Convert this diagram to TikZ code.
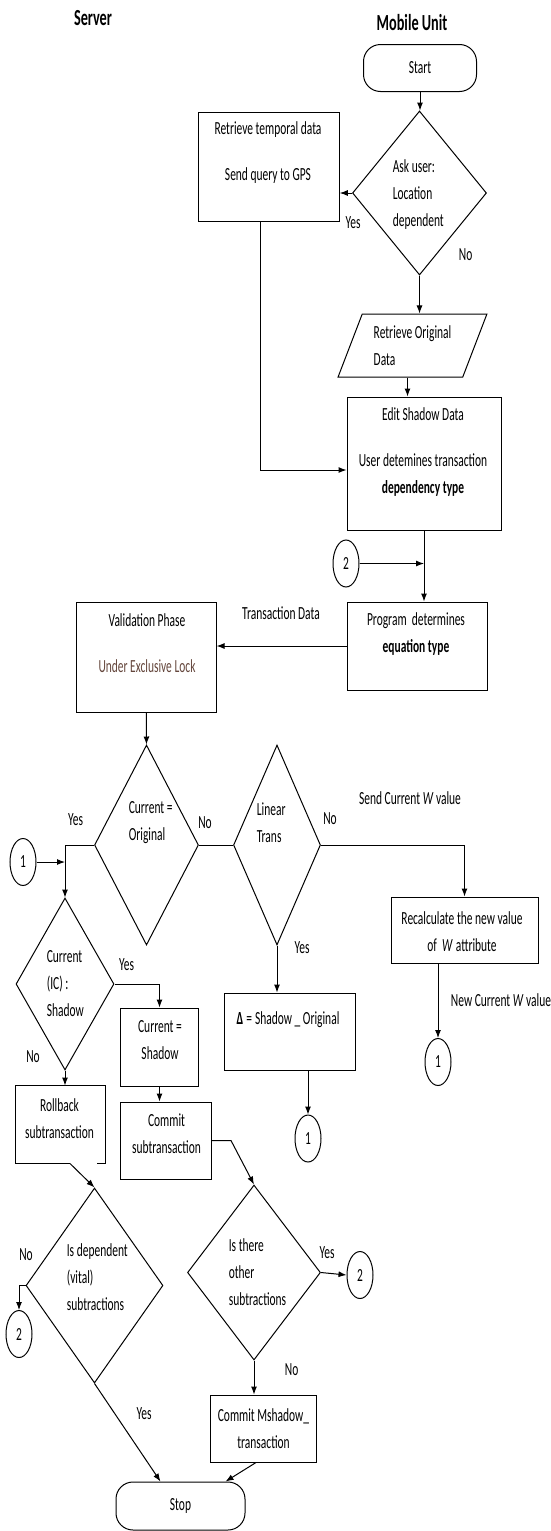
\documentclass[tikz,border=0pt]{standalone}
\usepackage{fontspec}
\setmainfont{Carlito}[FakeStretch=0.62]
\usetikzlibrary{shapes.geometric,arrows.meta}
\definecolor{lockbrown}{RGB}{100,70,60}
\tikzset{
  box/.style={draw, rectangle, inner sep=0pt},
  term/.style={draw, rectangle, rounded corners=17pt, inner sep=0pt},
  decision/.style={draw, diamond, inner sep=0pt},
  iobox/.style={draw, trapezium, trapezium left angle=65, trapezium right angle=115,
    trapezium stretches=true, inner sep=0pt},
  conn/.style={draw, ellipse, minimum width=26pt, minimum height=47pt, inner sep=0pt},
  txt/.style={align=center},
  ltxt/.style={align=left, anchor=west},
  head/.style={font=\fontsize{23}{27}\selectfont\bfseries}
}
\begin{document}
\begin{tikzpicture}[x=1pt, y=-1pt, line width=1pt, >={Latex[length=8pt,width=6pt]},
  font=\fontsize{18.5}{27}\selectfont]
    \useasboundingbox (0,0) rectangle (551,1531);
    \node[head] (srv) at (93,18) {Server};
    \node[head] (mob) at (412,23) {Mobile Unit};
    \node[term, minimum width=113pt, minimum height=47pt] (start) at (420,68) {Start};
    \node[decision, minimum width=134pt, minimum height=164pt] (ask) at (419.5,193) {};
    \node[ltxt] (ask-txt) at (389,195) {Ask user:\\Location\\dependent};
    \node[box, minimum width=140.5pt, minimum height=109pt] (ret) at (269,166.5) {};
    \node[txt] (ret-txt) at (268,153) {Retrieve temporal data\\[19pt]Send query to GPS};
    \node (ask-yes) at (353,223) {Yes};
    \node (ask-no) at (465.6,255) {No};
    \node[iobox, align=left, minimum width=149pt, minimum height=63pt] (orig) at (412.5,345.5) {Retrieve Original\\Data};
    \node[box, minimum width=154pt, minimum height=133pt] (edit) at (424,463.5) {};
    \node[txt] (edit-txt) at (423,452) {Edit Shadow Data\\[19pt]User detemines transaction\\\textbf{dependency type}};
    \node[conn] (c2a) at (346,563.5) {2};
    \node[box, minimum width=140pt, minimum height=88pt] (prog) at (417,646) {};
    \node[txt] (prog-txt) at (416,634) {Program\ \ determines\\\textbf{equation type}};
    \node[box, minimum width=139.5pt, minimum height=110pt] (val) at (146.3,657) {};
    \node[txt] (val-txt) at (147,643) {Validation Phase\\[19pt]\textcolor{lockbrown}{Under Exclusive Lock}};
    \node (trans-lbl) at (281,613) {Transaction Data};
    \node[decision, minimum width=104pt, minimum height=200pt] (cur) at (146.5,845) {};
    \node[ltxt] (cur-txt) at (125,823) {Current =\\Original};
    \node[decision, minimum width=87pt, minimum height=200pt] (lin) at (277,845) {};
    \node[ltxt] (lin-txt) at (253,823) {Linear\\Trans};
    \node (cur-yes) at (75.5,820) {Yes};
    \node (cur-no) at (205,823) {No};
    \node (lin-no) at (330,819) {No};
    \node (lin-yes) at (302,948) {Yes};
    \node (send-lbl) at (410,798) {Send Current \textit{W} value};
    \node[box, minimum width=147pt, minimum height=66pt] (rec) at (464.5,930) {};
    \node[txt] (rec-txt) at (462,932) {Recalculate the new value\\of\ \ \textit{W}\,attribute};
    \node (newcur-lbl) at (501,1000) {New Current \textit{W} value};
    \node[conn] (c1c) at (438,1062) {1};
    \node[box, minimum width=130.5pt, minimum height=77pt] (dlt) at (290,1031.5) {};
    \node (dlt-txt) at (288,1020) {\textbf{Δ}\,=\,Shadow \_ Original};
    \node[conn] (c1b) at (308,1138.5) {1};
    \node[conn] (c1a) at (23,862) {1};
    \node[decision, minimum width=98pt, minimum height=172pt] (ic) at (65,984) {};
    \node[ltxt] (ic-txt) at (43,983.5) {Current\\(IC) :\\Shadow};
    \node (ic-yes) at (126.5,965) {Yes};
    \node (ic-no) at (33,1057) {No};
    \node[box, minimum width=78pt, minimum height=78pt] (cs) at (159.5,1047) {};
    \node[txt] (cs-txt) at (160,1040.5) {Current =\\Shadow};
    \node[box, minimum width=91pt, minimum height=77pt] (cm) at (166,1140.5) {};
    \node[txt] (cm-txt) at (166.5,1134) {Commit\\subtransaction};
    \node[box, draw=none, minimum width=89pt, minimum height=77pt] (rb) at (60,1124.5) {};
    \node[txt] (rb-txt) at (59.5,1118.5) {Rollback\\subtransaction};
    \node[decision, minimum width=137pt, minimum height=195pt] (dep) at (94.5,1285.5) {};
    \node[ltxt] (dep-txt) at (63,1277.5) {Is dependent\\(vital)\\subtractions};
    \node (dep-no) at (26,1255) {No};
    \node (dep-yes) at (144,1414) {Yes};
    \node[conn] (c2b) at (19,1334) {2};
    \node[decision, minimum width=133pt, minimum height=175pt] (oth) at (254,1272.5) {};
    \node[ltxt] (oth-txt) at (225,1272) {Is there\\other\\subtractions};
    \node (oth-yes) at (327,1253) {Yes};
    \node (oth-no) at (291.7,1370) {No};
    \node[conn] (c2c) at (360,1275) {2};
    \node[box, minimum width=106pt, minimum height=67pt] (cms) at (263,1428.5) {};
    \node[txt] (cms-txt) at (263.5,1428.5) {Commit Mshadow\_\\transaction};
    \node[term, minimum width=129pt, minimum height=48pt] (stop) at (180.5,1506) {Stop};
    \draw[->] (start.south) -- (start.south |- ask.north);
    \draw[->] (ask.west) -- (ask.west -| ret.east);
    \draw[->] (ask.south) -- (ask.south |- orig.north);
    \draw[->] ([xshift=-5pt]orig.south) -- ([xshift=-5pt]orig.south |- edit.north);
    \draw[->] ([xshift=-9pt]ret.south) |- ([yshift=-6.5pt]edit.west);
    \draw[->] (edit.south) -- (edit.south |- prog.north);
    \draw[->] (c2a.east) -- (c2a.east -| edit.south);
    \draw[->] (prog.west) -- (prog.west -| val.east);
    \draw[->] (val.south) -- (cur.north);
    \draw (cur.east) -- (lin.west);
    \draw[->] (lin.east) -| (rec.north);
    \draw[->] (lin.south) -- (lin.south |- dlt.north);
    \draw[->] (c1c.north |- rec.south) -- (c1c.north);
    \draw[->] (c1b.north |- dlt.south) -- (c1b.north);
    \draw[->] (cur.west) -| (ic.north);
    \draw[->] (c1a.east) -- (c1a.east -| ic.north);
    \draw[->] (ic.east) -| (cs.north);
    \draw[->] (ic.south) -- (ic.south |- rb.north);
    \draw[->] (cs.south) -- (cs.south |- cm.north);
    \draw ([xshift=10pt]rb.south) -- (rb.south west) -- (rb.north west) -- (rb.north east) -- (rb.south east) -- ([xshift=37pt]rb.south);
    \draw[->] ([xshift=10pt]rb.south) -- (dep.north);
    \draw[->] (dep.west) -| (c2b.north);
    \draw[->] (dep.south) -- ([xshift=-20pt]stop.north);
    \draw[->] (cm.east) -- ++(19,0) -- (oth.north);
    \draw[->] (oth.east) -- (c2c.west);
    \draw[->] (oth.south) -- (oth.south |- cms.north);
    \draw[->] ([xshift=-7pt]cms.south) -- ([xshift=45pt]stop.north);
\end{tikzpicture}
\end{document}
